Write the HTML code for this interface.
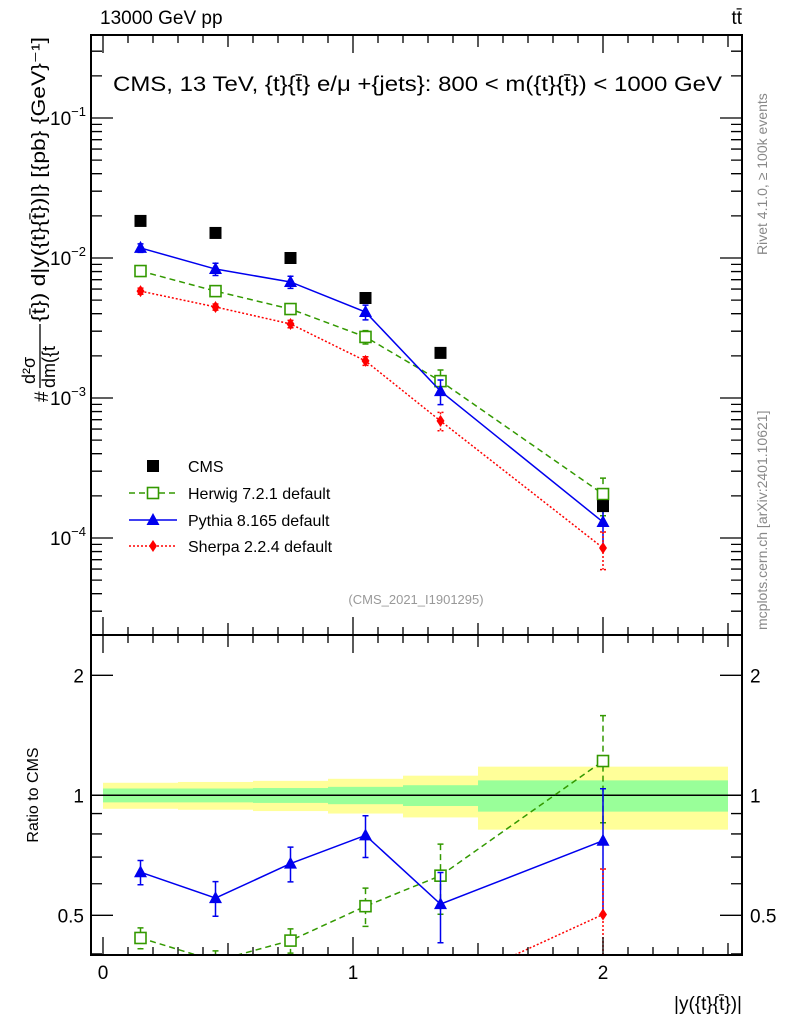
<!DOCTYPE html>
<html><head><meta charset="utf-8"><style>
body{margin:0;background:#fff}
svg{display:block;font-family:"Liberation Sans",sans-serif}
</style></head><body>
<svg id="c" width="786" height="1024" viewBox="0 0 786 1024" xmlns="http://www.w3.org/2000/svg">
<defs>
<clipPath id="cm"><rect x="91" y="35" width="651" height="600"/></clipPath>
<clipPath id="cr"><rect x="91" y="635" width="651" height="320"/></clipPath>
</defs>
<g id="bands" clip-path="url(#cr)"></g>
<g id="marks"></g>
<rect x="91" y="35" width="651" height="600" fill="none" stroke="#000" stroke-width="2"/>
<rect x="91" y="635" width="651" height="320" fill="none" stroke="#000" stroke-width="2"/>
<g id="ticks" stroke="#000" stroke-width="1.3"></g>
<g id="labels" font-size="19"></g>
<text x="100" y="24" font-size="19">13000 GeV pp</text>
<text x="742" y="24" font-size="19" text-anchor="end">tt̄</text>
<text x="113" y="91" font-size="21" textLength="609" lengthAdjust="spacingAndGlyphs">CMS, 13 TeV, {t}{t̄} e/μ +{jets}: 800 &lt; m({t}{t̄}) &lt; 1000 GeV</text>
<text x="416" y="604" font-size="13" fill="#999" text-anchor="middle">(CMS_2021_I1901295)</text>
<text transform="translate(767,255) rotate(-90)" font-size="14" fill="#888">Rivet 4.1.0, ≥ 100k events</text>
<text transform="translate(767,630) rotate(-90)" font-size="14" fill="#888">mcplots.cern.ch [arXiv:2401.10621]</text>
<g transform="translate(48,402) rotate(-90)">
<text x="0" y="0" font-size="19">#</text>
<text x="18" y="-13" font-size="18">d²σ</text>
<line x1="14" y1="-8" x2="78" y2="-8" stroke="#000" stroke-width="1.3"/>
<text x="14" y="7" font-size="18">dm({t</text>
<text x="80" y="-3" font-size="19" textLength="285" lengthAdjust="spacingAndGlyphs">{t̄}) d|y({t}{t̄})|} [{pb} {GeV}⁻¹]</text>
</g>
<text transform="translate(38,795) rotate(-90)" font-size="16" text-anchor="middle">Ratio to CMS</text>
<text x="742" y="1010" font-size="19" text-anchor="end">|y({t}{t̄})|</text>
<g id="legend" font-size="16"></g>
</svg>
<script>
const binCenters=[0.15,0.45,0.75,1.05,1.35,2.0];
const binEdges=[0,0.3,0.6,0.9,1.2,1.5,2.5];
const cmsVals=[0.0184,0.0151,0.0100,0.00518,0.00210,0.000169];
const herwigVals=[0.00807,0.0058,0.00432,0.00273,0.00132,0.000206];
const pythiaVals=[0.0118,0.00834,0.00674,0.00411,0.00112,0.00013];
const sherpaVals=[0.0058,0.00447,0.00338,0.00184,0.000686,0.0000849];
const herwigRelErr=[0.06,0.06,0.07,0.11,0.2,0.3];
const pythiaRelErr=[0.07,0.1,0.1,0.12,0.2,0.35];
const sherpaRelErr=[0.05,0.05,0.06,0.07,0.15,0.3];
const cmsTotErr=[0.075,0.08,0.087,0.1,0.12,0.18];
const cmsStatErr=[0.04,0.04,0.043,0.05,0.06,0.09];
const mainTickDecades=[-4,-3,-2,-1];
const ratioTicks=[0.5,1,2];
const xTicks=[0,1,2];

const NS="http://www.w3.org/2000/svg";
const X0=103,XS=250;
const xs=v=>X0+v*XS;
const ym=v=>118-(Math.log10(v)+1)*140;
const yr=v=>795.3-Math.log10(v)*398.6;
function el(tag,attrs,parent){const e=document.createElementNS(NS,tag);for(const k in attrs)e.setAttribute(k,attrs[k]);parent.appendChild(e);return e;}
const bands=document.getElementById('bands');
const marks=document.getElementById('marks');
const ticks=document.getElementById('ticks');
const labels=document.getElementById('labels');
const legend=document.getElementById('legend');

for(let i=0;i<binCenters.length;i++){
  const x1=xs(binEdges[i]),x2=xs(binEdges[i+1]);
  const y=el('rect',{x:x1,y:yr(1+cmsTotErr[i]),width:x2-x1,height:yr(1-cmsTotErr[i])-yr(1+cmsTotErr[i]),fill:'#ffff99'},bands);
  
  
  const g=el('rect',{x:x1,y:yr(1+cmsStatErr[i]),width:x2-x1,height:yr(1-cmsStatErr[i])-yr(1+cmsStatErr[i]),fill:'#99ff99'},bands);
  
  
}
const one=el('line',{x1:91,x2:742,y1:yr(1),y2:yr(1),stroke:'#000','stroke-width':1.5},bands);



function marker(type,x,y,color,parent){
  let m;
  if(type==='sq') m=el('rect',{x:x-6,y:y-6,width:12,height:12,fill:'#000'},parent);
  else if(type==='osq') m=el('rect',{x:x-5.5,y:y-5.5,width:11,height:11,fill:'#fff',stroke:color,'stroke-width':1.6},parent);
  else if(type==='tri') m=el('polygon',{points:`${x},${y-7} ${x-6.5},${y+5} ${x+6.5},${y+5}`,fill:color},parent);
  else m=el('polygon',{points:`${x},${y-6} ${x-4},${y} ${x},${y+6} ${x+4},${y}`,fill:color},parent);
  return m;
}
const series=[
 {name:'herwig',vals:herwigVals,err:herwigRelErr,color:'#339900',dash:'6,4',type:'osq'},
 {name:'pythia',vals:pythiaVals,err:pythiaRelErr,color:'#0000ee',dash:'',type:'tri'},
 {name:'sherpa',vals:sherpaVals,err:sherpaRelErr,color:'#ff0000',dash:'2,2',type:'dia'}
];
const gMain=el('g',{'clip-path':'url(#cm)'},marks);
const gRat=el('g',{'clip-path':'url(#cr)'},marks);
series.forEach(s=>{
  [[gMain,(i)=>s.vals[i],ym],[gRat,(i)=>s.vals[i]/cmsVals[i],yr]].forEach(([g,val,yf])=>{
    const pts=binCenters.map((c,i)=>xs(c)+','+yf(val(i))).join(' ');
    const pl=el('polyline',{points:pts,fill:'none',stroke:s.color,'stroke-width':1.5,'stroke-dasharray':s.dash},g);
    
    
    binCenters.forEach((c,i)=>{
      const v=val(i),x=xs(c);
      const eb=el('path',{d:`M${x},${yf(v*(1+s.err[i]))}V${yf(v*(1-s.err[i]))}M${x-3},${yf(v*(1+s.err[i]))}h6M${x-3},${yf(v*(1-s.err[i]))}h6`,stroke:s.color,'stroke-width':1.5,'stroke-dasharray':s.dash,fill:'none'},g);
      
      
      const m=marker(s.type,x,yf(v),s.color,g);
      
      
    });
  });
});
binCenters.forEach((c,i)=>{
  const m=marker('sq',xs(c),ym(cmsVals[i]),'#000',gMain);
  
  
});

let d='';
for(let k=0;k<=25;k++){
  const v=k/10,x=xs(v);
  const L=(k%10===0)?18:(k%5===0?12:8);
  d+=`M${x},955v-${L}M${x},635v${L}M${x},635v-${L}M${x},35v${L}`;
}
for(let dec=-5;dec<=0;dec++){
  for(let m=1;m<10;m++){
    const v=m*Math.pow(10,dec),y=ym(v);
    if(y<35||y>635)continue;
    const L=m===1?22:11;
    d+=`M91,${y}h${L}M742,${y}h-${L}`;
  }
}
[0.4,0.5,0.6,0.7,0.8,0.9,1,2].forEach(v=>{
  const y=yr(v);const L=(v===0.5||v===1||v===2)?22:11;
  d+=`M91,${y}h${L}M742,${y}h-${L}`;
});
el('path',{d:d,fill:'none'},ticks);
mainTickDecades.forEach(dec=>{
  const t=el('text',{x:86,y:ym(Math.pow(10,dec))+7,'text-anchor':'end'},labels);
  
  
  t.innerHTML=`10<tspan dy="-9" font-size="13">−${-dec}</tspan>`;
});
ratioTicks.forEach(v=>{
  [[84,'end'],[750,'start']].forEach(([x,a])=>{
    const t=el('text',{x:x,y:yr(v)+7,'text-anchor':a},labels);
    
    
    t.textContent=v;
  });
});
xTicks.forEach(v=>{
  const t=el('text',{x:xs(v),y:979,'text-anchor':'middle'},labels);
  
  
  t.textContent=v;
});

const leg=[['CMS',null],['Herwig 7.2.1 default',series[0]],['Pythia 8.165 default',series[1]],['Sherpa 2.2.4 default',series[2]]];
const rowsY=[466,493,520,546];
leg.forEach((l,i)=>{
  const y=rowsY[i];
  const g=el('g',{},legend);
  
  
  if(l[1]){
    el('line',{x1:129,x2:177,y1:y,y2:y,stroke:l[1].color,'stroke-width':1.5,'stroke-dasharray':l[1].dash},g);
    marker(l[1].type,153,y,l[1].color,g);
  } else marker('sq',153,y,'#000',g);
  const t=el('text',{x:188,y:y+6},g);
  t.textContent=l[0];
});
</script>
</body></html>
